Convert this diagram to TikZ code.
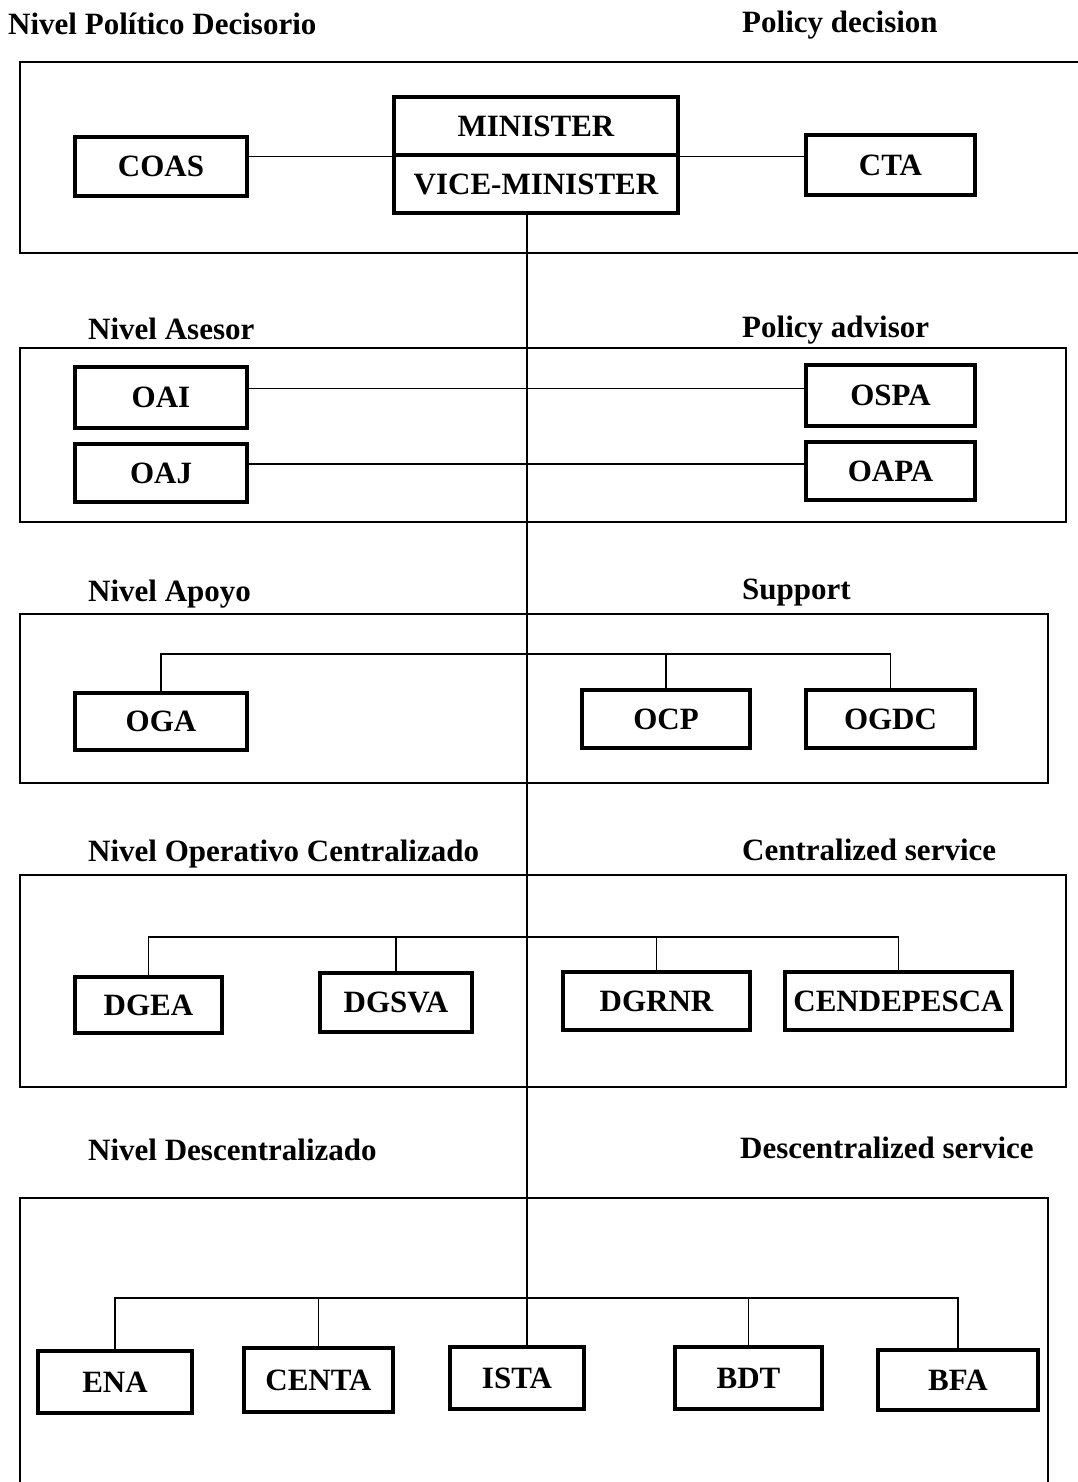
\documentclass[tikz,border=0pt]{standalone}
\usepackage{fontspec}
\setmainfont{Liberation Serif}

\begin{document}
\begin{tikzpicture}[x=1pt,y=-1pt,
    unit/.style ={rectangle, draw, line width=3.5pt, inner sep=0pt,
                  font=\fontsize{31}{36}\selectfont\bfseries},
    level/.style ={anchor=base west, inner sep=0pt,
                  font=\fontsize{31}{36}\selectfont\bfseries},
    frame/.style ={line width=1.6pt},
    link/.style ={line width=1.5pt}]
   \useasboundingbox (0,0) rectangle (1077,1482);
   % level frames
   \draw[frame] (1090,62) -- (20,62) -- (20,253) -- (1090,253);
   \draw[frame] (20,348) rectangle (1066,522);
   \draw[frame] (20,614) rectangle (1048,783);
   \draw[frame] (20,875) rectangle (1066,1087);
   \draw[frame] (20,1490) -- (20,1198) -- (1048,1198) -- (1048,1490);
   % level titles
   \node[level] (t1) at (8,35) {Nivel Político Decisorio};
   \node[level] (e1) at (742,33) {Policy decision};
   \node[level] (t2) at (88,339) {Nivel Asesor};
   \node[level] (e2) at (742,337) {Policy advisor};
   \node[level] (t3) at (88,601) {Nivel Apoyo};
   \node[level] (e3) at (742,599) {Support};
   \node[level] (t4) at (88,861) {Nivel Operativo Centralizado};
   \node[level] (e4) at (742,860) {Centralized service};
   \node[level] (t5) at (88,1160) {Nivel Descentralizado};
   \node[level] (e5) at (740,1158) {Descentralized service};
   % policy decision
   \node[unit, minimum width=284pt, minimum height=58pt] (min) at (536,126) {MINISTER};
   \node[unit, minimum width=284pt, minimum height=58pt] (vice) at (536,184) {VICE-MINISTER};
   \node[unit, minimum width=172pt, minimum height=59pt] (coas) at (161,166.5) {COAS};
   \node[unit, minimum width=169pt, minimum height=60pt] (cta) at (890.5,165) {CTA};
   % policy advisor
   \node[unit, minimum width=172pt, minimum height=61pt] (oai) at (161,397.5) {OAI};
   \node[unit, minimum width=169pt, minimum height=61pt] (ospa) at (890.5,395.5) {OSPA};
   \node[unit, minimum width=172pt, minimum height=58pt] (oaj) at (161,473) {OAJ};
   \node[unit, minimum width=169pt, minimum height=58pt] (oapa) at (890.5,471) {OAPA};
   % support
   \node[unit, minimum width=172pt, minimum height=57pt] (oga) at (161,721.5) {OGA};
   \node[unit, minimum width=168pt, minimum height=58pt] (ocp) at (666,719) {OCP};
   \node[unit, minimum width=169pt, minimum height=58pt] (ogdc) at (890.5,719) {OGDC};
   % centralized service
   \node[unit, minimum width=147pt, minimum height=56pt] (dgea) at (148.5,1005) {DGEA};
   \node[unit, minimum width=152pt, minimum height=59pt] (dgsva) at (396,1002.5) {DGSVA};
   \node[unit, minimum width=187pt, minimum height=58pt] (dgrnr) at (656.5,1001) {DGRNR};
   \node[unit, minimum width=227pt, minimum height=58pt] (cende) at (898.5,1001) {CENDEPESCA};
   % descentralized service
   \node[unit, minimum width=154pt, minimum height=62pt] (ena) at (115,1382) {ENA};
   \node[unit, minimum width=149pt, minimum height=64pt] (centa) at (318.5,1380) {CENTA};
   \node[unit, minimum width=134pt, minimum height=62pt] (ista) at (517,1378) {ISTA};
   \node[unit, minimum width=147pt, minimum height=62pt] (bdt) at (748.5,1378) {BDT};
   \node[unit, minimum width=160pt, minimum height=60pt] (bfa) at (958,1380) {BFA};
   % bus levels
   \coordinate (trunk) at (527,0);
   \coordinate (apoyo) at (527,654);
   \coordinate (oper) at (527,937);
   \coordinate (desc) at (527,1298);
   % connections
   \draw[line width=2.5pt] (vice.south -| trunk) to (ista.north -| trunk);
   \draw[link] (min.south west) to (min.south west -| coas.east);
   \draw[link] (min.south east) to (min.south east -| cta.west);
   \draw[link] ([yshift=9pt]oai.east) to ([yshift=9pt]oai.east -| ospa.west);
   \draw[link] ([yshift=9pt]oaj.east) to ([yshift=9pt]oaj.east -| oapa.west);
   \draw[link] (oga.north) |- (apoyo) -| (ogdc.north);
   \draw[link] (ocp.north) to (ocp.north |- apoyo);
   \draw[link] (dgea.north) |- (oper) -| (cende.north);
   \draw[link] (dgsva.north) to (dgsva.north |- oper);
   \draw[link] (dgrnr.north) to (dgrnr.north |- oper);
   \draw[link] (ena.north) |- (desc) -| (bfa.north);
   \draw[link] (centa.north) to (centa.north |- desc);
   \draw[link] (bdt.north) to (bdt.north |- desc);
 \end{tikzpicture}
\end{document}
